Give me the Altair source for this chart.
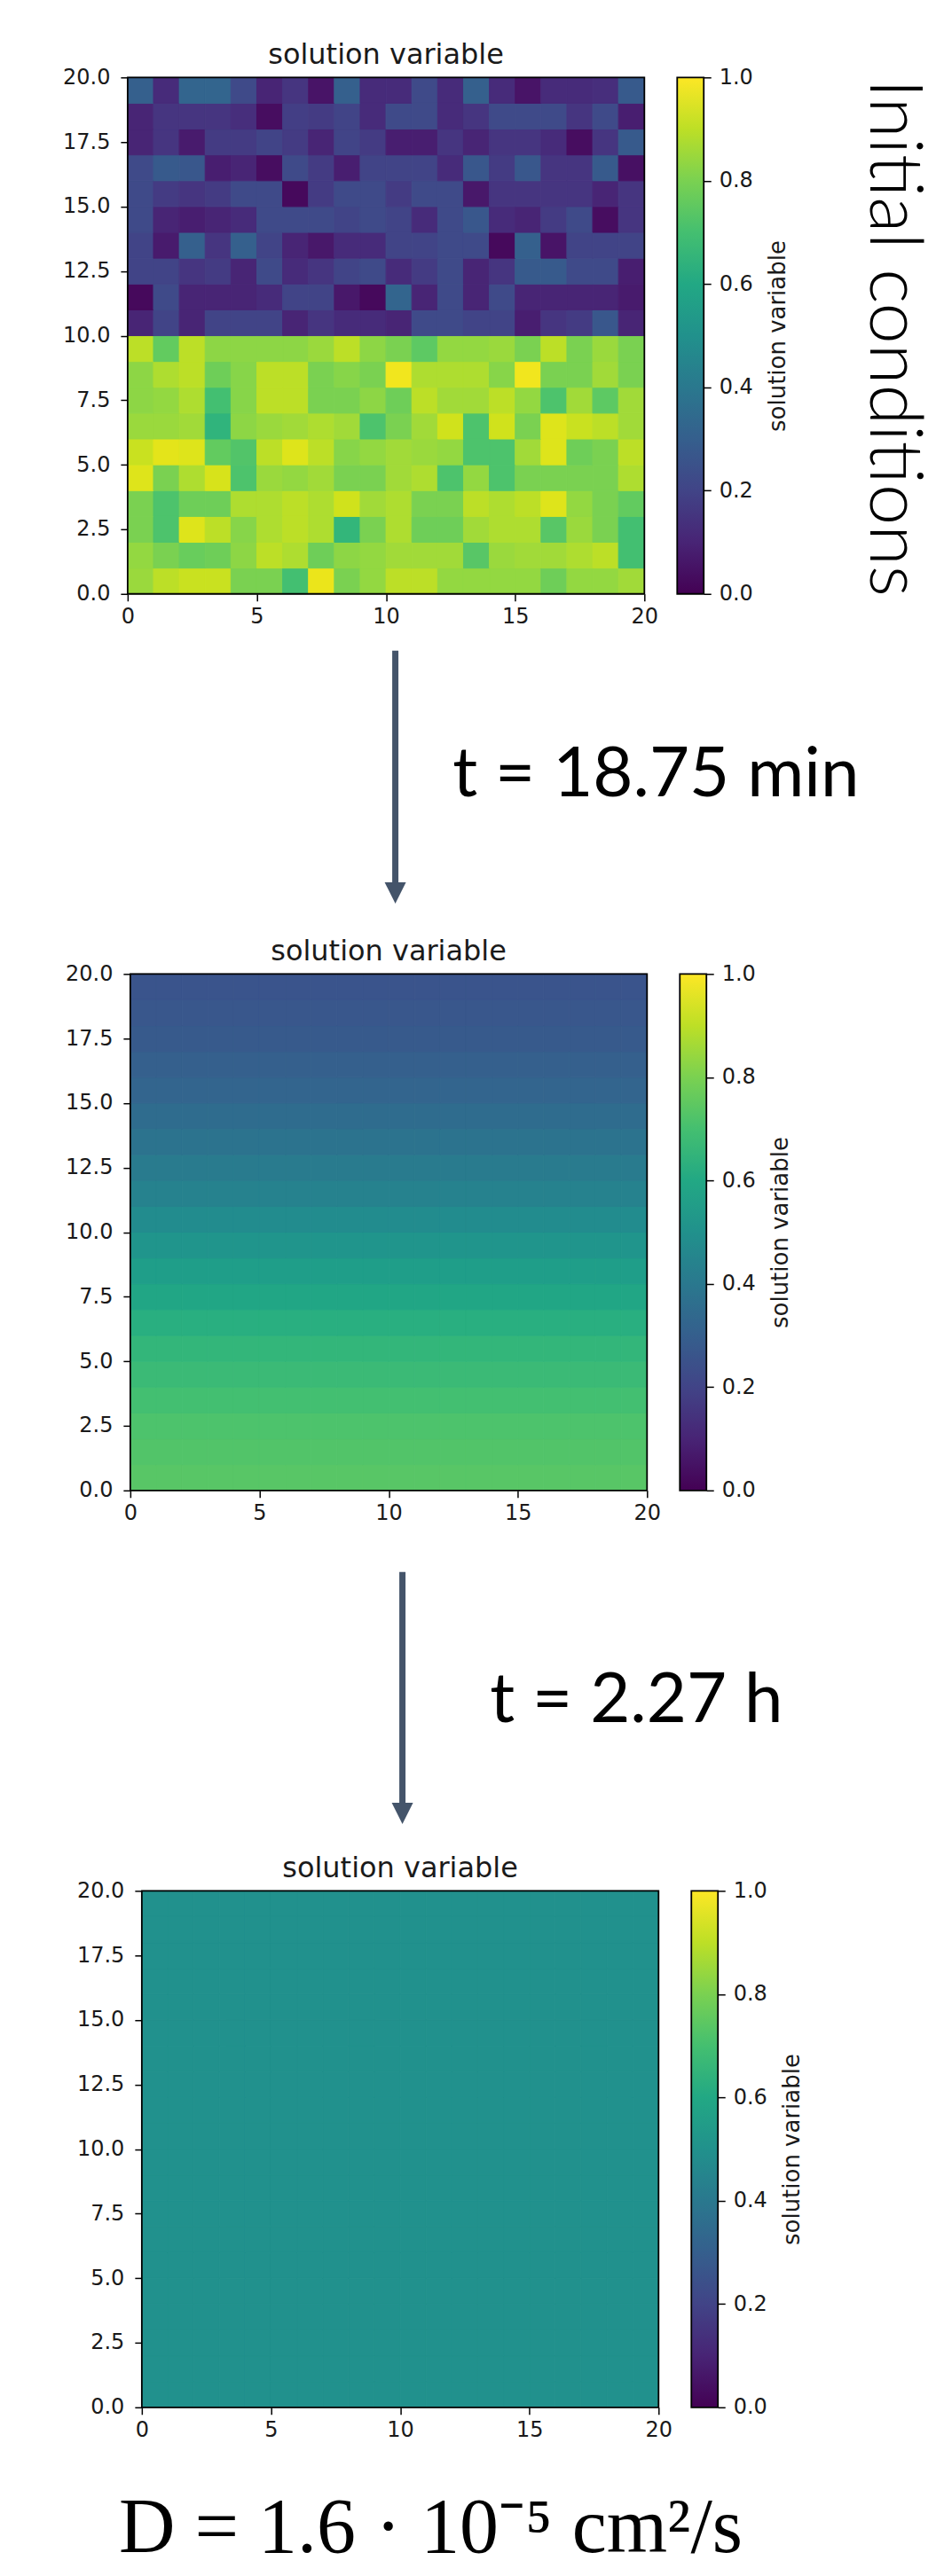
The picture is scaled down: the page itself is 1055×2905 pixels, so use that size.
import altair as alt
import pandas as pd

# ---------------- data ----------------
TITLE = "solution variable"
CB_TITLE = "solution variable"
SIDE_LABEL = "Initial conditions"
STEP_LABELS = ["t = 18.75 min", "t = 2.27 h"]
D_LABEL = "D = 1.6 · 10⁻⁵ cm²/s"

X_TICKS = [0, 5, 10, 15, 20]
Y_TICKS = [0, 2.5, 5, 7.5, 10, 12.5, 15, 17.5, 20]
CB_TICKS = [0, 0.2, 0.4, 0.6, 0.8, 1.0]

# initial conditions, rows listed from top (y=19) to bottom (y=0), columns x=0..19
INITIAL_ROWS = [
    [0.30, 0.12, 0.32, 0.32, 0.22, 0.10, 0.15, 0.05, 0.30, 0.12, 0.12, 0.22, 0.12, 0.30, 0.12, 0.05, 0.12, 0.12, 0.13, 0.28],
    [0.10, 0.15, 0.15, 0.15, 0.13, 0.03, 0.18, 0.17, 0.20, 0.12, 0.22, 0.22, 0.12, 0.15, 0.22, 0.22, 0.22, 0.15, 0.22, 0.08],
    [0.10, 0.15, 0.07, 0.17, 0.17, 0.20, 0.17, 0.10, 0.20, 0.17, 0.08, 0.08, 0.15, 0.10, 0.15, 0.15, 0.12, 0.03, 0.15, 0.28],
    [0.22, 0.28, 0.27, 0.08, 0.10, 0.03, 0.22, 0.17, 0.08, 0.20, 0.20, 0.20, 0.12, 0.27, 0.17, 0.27, 0.15, 0.15, 0.28, 0.04],
    [0.22, 0.17, 0.15, 0.17, 0.22, 0.22, 0.02, 0.17, 0.22, 0.22, 0.17, 0.22, 0.22, 0.06, 0.15, 0.15, 0.15, 0.15, 0.10, 0.15],
    [0.22, 0.10, 0.08, 0.10, 0.12, 0.22, 0.22, 0.22, 0.20, 0.22, 0.20, 0.12, 0.22, 0.27, 0.12, 0.10, 0.17, 0.22, 0.03, 0.15],
    [0.20, 0.07, 0.30, 0.15, 0.30, 0.20, 0.10, 0.06, 0.12, 0.12, 0.20, 0.20, 0.22, 0.22, 0.02, 0.30, 0.05, 0.20, 0.20, 0.20],
    [0.20, 0.20, 0.15, 0.17, 0.10, 0.22, 0.12, 0.15, 0.20, 0.22, 0.12, 0.17, 0.22, 0.10, 0.15, 0.28, 0.28, 0.22, 0.22, 0.08],
    [0.02, 0.22, 0.10, 0.10, 0.10, 0.12, 0.20, 0.20, 0.06, 0.02, 0.32, 0.10, 0.22, 0.10, 0.22, 0.10, 0.10, 0.10, 0.10, 0.07],
    [0.10, 0.20, 0.10, 0.20, 0.20, 0.20, 0.10, 0.15, 0.12, 0.12, 0.10, 0.22, 0.22, 0.20, 0.20, 0.08, 0.15, 0.17, 0.27, 0.10],
    [0.90, 0.76, 0.90, 0.83, 0.83, 0.83, 0.83, 0.85, 0.90, 0.83, 0.80, 0.75, 0.84, 0.84, 0.85, 0.80, 0.90, 0.80, 0.85, 0.80],
    [0.83, 0.88, 0.90, 0.78, 0.82, 0.90, 0.90, 0.80, 0.82, 0.80, 0.98, 0.88, 0.88, 0.88, 0.82, 0.98, 0.80, 0.80, 0.86, 0.80],
    [0.83, 0.84, 0.88, 0.70, 0.82, 0.90, 0.90, 0.80, 0.80, 0.83, 0.78, 0.90, 0.86, 0.86, 0.90, 0.84, 0.72, 0.86, 0.75, 0.86],
    [0.85, 0.85, 0.86, 0.65, 0.83, 0.85, 0.86, 0.88, 0.86, 0.72, 0.80, 0.86, 0.93, 0.72, 0.93, 0.80, 0.95, 0.92, 0.90, 0.86],
    [0.92, 0.96, 0.95, 0.76, 0.73, 0.90, 0.95, 0.90, 0.82, 0.84, 0.86, 0.85, 0.84, 0.72, 0.72, 0.86, 0.95, 0.78, 0.80, 0.90],
    [0.95, 0.80, 0.88, 0.94, 0.72, 0.85, 0.84, 0.86, 0.80, 0.80, 0.86, 0.88, 0.72, 0.84, 0.72, 0.80, 0.80, 0.80, 0.80, 0.88],
    [0.80, 0.72, 0.78, 0.78, 0.88, 0.88, 0.90, 0.88, 0.93, 0.86, 0.88, 0.80, 0.80, 0.90, 0.88, 0.90, 0.95, 0.84, 0.80, 0.76],
    [0.80, 0.72, 0.95, 0.90, 0.82, 0.88, 0.90, 0.88, 0.66, 0.80, 0.88, 0.78, 0.78, 0.86, 0.88, 0.88, 0.74, 0.85, 0.80, 0.70],
    [0.84, 0.80, 0.77, 0.78, 0.83, 0.90, 0.88, 0.78, 0.83, 0.84, 0.86, 0.86, 0.86, 0.74, 0.85, 0.86, 0.86, 0.88, 0.90, 0.70],
    [0.85, 0.90, 0.92, 0.92, 0.80, 0.80, 0.70, 0.97, 0.80, 0.84, 0.90, 0.90, 0.84, 0.84, 0.84, 0.84, 0.78, 0.84, 0.84, 0.86],
]

# t = 18.75 min: one value per row, from bottom (y=0) to top (y=19)
MID_ROW_VALUES = [0.74, 0.73, 0.72, 0.70, 0.68, 0.66, 0.63, 0.59, 0.56, 0.52,
                  0.48, 0.44, 0.41, 0.38, 0.35, 0.32, 0.30, 0.28, 0.27, 0.26]

# t = 2.27 h: uniform field
FINAL_VALUE = 0.50

VIRIDIS = ["#440154", "#482475", "#414487", "#355f8d", "#2a788e", "#21918c",
           "#22a884", "#44bf70", "#7ad151", "#bddf26", "#fde725"]

ARROW_COLOR = "#44546A"
TEXT_COLOR = "#1a1a1a"
N = 20
SIZE = 583
CB_GAP = 37
CB_W = 30


def grid_df(value_at):
    recs = []
    for r in range(N):
        for c in range(N):
            recs.append({"x0": c, "x1": c + 1, "y0": r, "y1": r + 1, "v": value_at(r, c)})
    return pd.DataFrame(recs)


df_init = grid_df(lambda r, c: INITIAL_ROWS[N - 1 - r][c])
df_mid = grid_df(lambda r, c: MID_ROW_VALUES[r])
df_final = grid_df(lambda r, c: FINAL_VALUE)

one = pd.DataFrame({"k": [0]})


def text_layer(label, x, y, **kw):
    return alt.Chart(pd.DataFrame({"t": [label]})).mark_text(**kw).encode(
        text="t:N", x=alt.value(x), y=alt.value(y))


def panel(df, o, extra_layers):
    """heatmap starting o px right of the view's left edge, with its colorbar"""
    xs = alt.Scale(domain=[0, N], range=[o, o + SIZE], nice=False, zero=False)
    ys = alt.Scale(domain=[0, N], nice=False, zero=False)
    cscale = alt.Scale(scheme="viridis", domain=[0, 1])
    rect = alt.Chart(df).mark_rect(strokeWidth=1).encode(
        x=alt.X("x0:Q", scale=xs, axis=alt.Axis(
            values=X_TICKS, format="d", title=None, grid=False, domain=False,
            tickColor="black", tickSize=8, tickWidth=1.5, labelFont="DejaVu Sans",
            labelFontSize=24, labelColor=TEXT_COLOR, labelPadding=6,
            labelFlush=False, labelOverlap=False)),
        x2="x1:Q",
        y=alt.Y("y0:Q", scale=ys, axis=alt.Axis(
            values=Y_TICKS, format=".1f", title=None, grid=False, domain=False,
            offset=-o, tickColor="black", tickSize=8, tickWidth=1.5,
            labelFont="DejaVu Sans", labelFontSize=24, labelColor=TEXT_COLOR,
            labelPadding=12, labelFlush=False, labelOverlap=False)),
        y2="y1:Q",
        color=alt.Color("v:Q", scale=cscale, legend=None),
        stroke=alt.Stroke("v:Q", scale=cscale, legend=None),
    )
    frame = alt.Chart(one).mark_rect(filled=False, color="black", strokeWidth=1.8).encode(
        x=alt.value(o), x2=alt.value(o + SIZE), y=alt.value(0), y2=alt.value(SIZE))
    grad = alt.LinearGradient(
        gradient="linear",
        stops=[alt.GradientStop(color=c, offset=i / (len(VIRIDIS) - 1)) for i, c in enumerate(VIRIDIS)],
        x1=0, x2=0, y1=1, y2=0)
    cb_df = pd.DataFrame({"lo": [0.0], "hi": [1.0]})
    cb = alt.Chart(cb_df).mark_rect(color=grad, stroke="black", strokeWidth=1.8).encode(
        x=alt.value(o + SIZE + CB_GAP), x2=alt.value(o + SIZE + CB_GAP + CB_W),
        y=alt.Y("lo:Q", scale=alt.Scale(domain=[0, 1], nice=False), axis=alt.Axis(
            orient="right", offset=CB_GAP + CB_W, values=CB_TICKS, format=".1f",
            grid=False, domain=False, tickColor="black", tickSize=8, tickWidth=1.5,
            labelFont="DejaVu Sans", labelFontSize=24, labelColor=TEXT_COLOR,
            labelPadding=9, labelFlush=False, labelOverlap=False,
            title=CB_TITLE, titleAngle=270, titleFont="DejaVu Sans", titleFontSize=26,
            titleFontWeight="normal", titleColor=TEXT_COLOR, titlePadding=41)),
        y2="hi:Q",
    )
    title = text_layer(TITLE, o + SIZE / 2, -15, font="DejaVu Sans", fontSize=32,
                       align="center", baseline="alphabetic", color=TEXT_COLOR)
    return alt.layer(rect, frame, cb, title, *extra_layers).resolve_scale(
        y="independent").properties(width=o + SIZE, height=SIZE)


def gap(h):
    return alt.Chart(one).mark_text(text="").encode(
        x=alt.value(0), y=alt.value(0)).properties(width=1, height=h)


def arrow(x, y_top, y_shaft_end, y_head):
    shaft = alt.Chart(one).mark_rule(color=ARROW_COLOR, strokeWidth=7).encode(
        x=alt.value(x), y=alt.value(y_top), y2=alt.value(y_shaft_end))
    head = alt.Chart(one).mark_point(shape="M-1,-1L1,-1L0,1Z", filled=True, size=576,
                                     color=ARROW_COLOR, opacity=1).encode(
        x=alt.value(x), y=alt.value(y_head))
    return [shaft, head]


anchor = alt.Chart(one).mark_rect(color="white").encode(
    x=alt.value(-136), x2=alt.value(-135), y=alt.value(-78), y2=alt.value(-77))

side = text_layer(SIDE_LABEL, 838, 294, font="Lato", fontWeight=300, fontSize=83,
                  angle=90, align="center", baseline="alphabetic", color="black")
step1 = text_layer(STEP_LABELS[0], 596, 811, font="Lato", fontSize=78,
                   align="center", baseline="alphabetic", color="black")
step2 = text_layer(STEP_LABELS[1], 574, 844, font="Lato", fontSize=78,
                   align="center", baseline="alphabetic", color="black")
dtext = text_layer(D_LABEL, 342, 746, font="Liberation Serif", fontSize=88,
                   align="center", baseline="alphabetic", color="black")

p1 = panel(df_init, 0, [anchor, side, step1] + arrow(302, 647, 911, 920.5))
p2 = panel(df_mid, 3, [step2] + arrow(310, 675, 938, 947.5))
p3 = panel(df_final, 16, [dtext])

chart = alt.vconcat(
    p1, gap(429), p2, gap(452), p3, spacing=0, bounds="flush",
).properties(padding=0).configure_view(strokeWidth=0)

chart.save("out.html", embed_options={"renderer": "svg", "actions": False})
